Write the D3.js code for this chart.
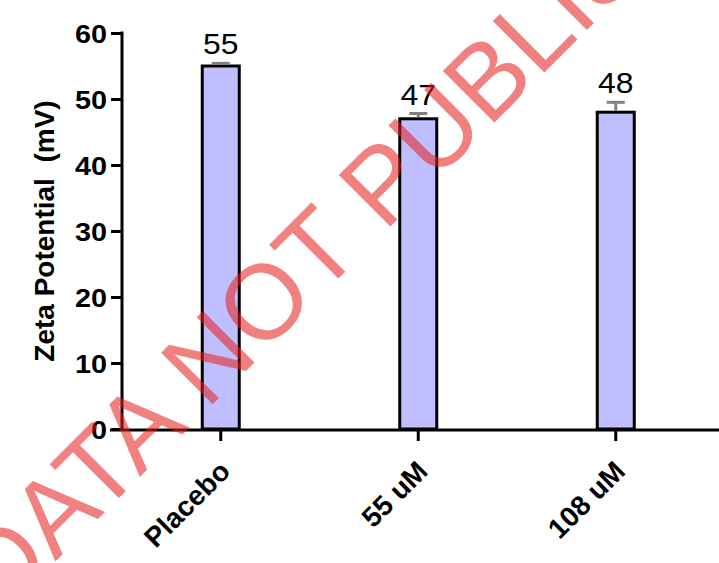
<!DOCTYPE html>
<html>
<head>
<meta charset="utf-8">
<script src="https://cdn.jsdelivr.net/npm/d3@7"></script>
<style>
  html, body { margin: 0; padding: 0; background: #fff; }
  svg { display: block; font-family: "Liberation Sans", Arial, Helvetica, sans-serif; }
</style>
</head>
<body>
<svg id="chart" width="719" height="563"></svg>
<script>
// Zeta potential per formulation (mean ± SEM)
const categories = ["Placebo", "55 uM", "108 uM"];
const meanValues = [55, 47, 48];
const semValues = [0.4, 0.8, 1.5];
const valueLabels = ["55", "47", "48"];
const yTicks = [0, 10, 20, 30, 40, 50, 60];
const yTitle = "Zeta Potential  (mV)";
const watermark = "DATA NOT PUBLISHED";

const svg = d3.select("#chart");
const W = 719, H = 563;
const plotLeft = 122, plotTop = 33, plotBottom = 429, plotRight = 714.5;
const FONT = "Liberation Sans, Arial, sans-serif";
const numStretch = 1.13;   // numerals are set slightly wide

const x = d3.scaleBand().domain(categories).range([plotLeft, plotRight]).padding(0);
const y = d3.scaleLinear().domain([0, 60]).range([plotBottom, plotTop]);
const barW = 37;

const rows = categories.map((c, i) => ({ c, v: meanValues[i], e: semValues[i], t: valueLabels[i] }));
const cx = d => x(d.c) + x.bandwidth() / 2;

// bars
svg.append("g").selectAll("rect").data(rows).join("rect")
  .attr("x", d => cx(d) - barW / 2)
  .attr("y", d => y(d.v))
  .attr("width", barW)
  .attr("height", d => y(0) - y(d.v))
  .attr("fill", "#bfbfff")
  .attr("stroke", "#000")
  .attr("stroke-width", 3);

// error bars (upper only)
const eb = svg.append("g").attr("stroke", "#808080").attr("stroke-width", 3);
eb.selectAll("line.stem").data(rows).join("line").attr("class", "stem")
  .attr("x1", cx).attr("x2", cx)
  .attr("y1", d => y(d.v) - 1.5)
  .attr("y2", d => y(d.v + d.e));
eb.selectAll("line.cap").data(rows).join("line").attr("class", "cap")
  .attr("x1", d => cx(d) - 9)
  .attr("x2", d => cx(d) + 9)
  .attr("y1", d => y(d.v + d.e))
  .attr("y2", d => y(d.v + d.e));

// value labels
svg.append("g").selectAll("text").data(rows).join("text")
  .attr("transform", d => `translate(${cx(d)},${y(d.v + d.e) - 9}) scale(1.08,1)`)
  .attr("text-anchor", "middle")
  .attr("font-family", FONT)
  .attr("font-size", 29.5)
  .attr("fill", "#000")
  .text(d => d.t);

// y axis
const yAxis = svg.append("g")
  .attr("transform", `translate(${plotLeft},0)`)
  .call(d3.axisLeft(y).tickValues(yTicks).tickSize(11).tickPadding(4).tickSizeOuter(0));
yAxis.select(".domain").attr("stroke-width", 3).attr("d", `M0,${plotTop - 1.5}V${plotBottom}`);
yAxis.selectAll(".tick line").attr("stroke-width", 3);
yAxis.selectAll(".tick text")
  .attr("font-size", 25.5).attr("font-weight", "bold").attr("font-family", FONT)
  .attr("fill", "#000").attr("dy", "0.36em")
  .attr("x", -15 / numStretch)
  .attr("transform", `scale(${numStretch},1)`);

// x axis
const xAxis = svg.append("g")
  .attr("transform", `translate(0,${plotBottom + 1})`)
  .call(d3.axisBottom(x).tickSize(11).tickSizeOuter(0));
xAxis.select(".domain").attr("stroke-width", 3).attr("d", `M110,0H${W}`);
xAxis.selectAll(".tick line").attr("stroke-width", 3);
xAxis.selectAll(".tick text")
  .attr("font-size", 28).attr("font-weight", "bold").attr("font-family", FONT)
  .attr("fill", "#000")
  .attr("text-anchor", "end")
  .attr("y", 0).attr("dy", 0)
  .attr("transform", "translate(11,43) rotate(-45)");

// y title
svg.append("text")
  .attr("transform", `translate(54,${(plotTop + plotBottom) / 2}) rotate(-90)`)
  .attr("text-anchor", "middle")
  .attr("font-family", FONT)
  .attr("font-size", 28)
  .attr("font-weight", "bold")
  .style("white-space", "pre")
  .attr("fill", "#000")
  .text(yTitle);

// watermark overlay
svg.append("text")
  .attr("transform", "translate(1,616) rotate(-45)")
  .attr("font-family", FONT)
  .attr("font-size", 106)
  .attr("fill", "rgb(230,30,30)")
  .attr("fill-opacity", 0.56)
  .text(watermark);
</script>
</body>
</html>
